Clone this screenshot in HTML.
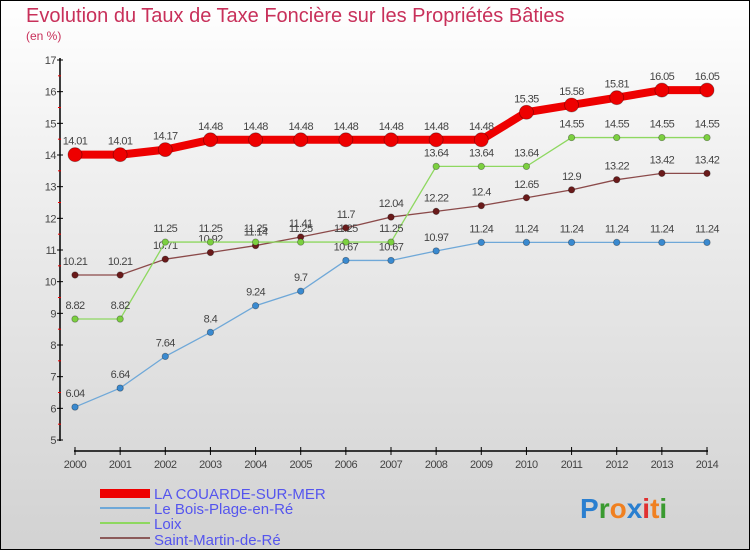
<!DOCTYPE html>
<html><head><meta charset="utf-8"><style>
html,body{margin:0;padding:0}
body{width:750px;height:550px;overflow:hidden;font-family:"Liberation Sans",sans-serif}
#wrap{position:absolute;left:0;top:0;width:748px;height:548px;border:1px solid #000;background:linear-gradient(#fff,#f0f0f0 30%,#d2d2d2)}
</style></head><body>
<div id="wrap">
<svg id="chart" width="750" height="550" style="position:absolute;left:-1px;top:-1px">
<text x="26" y="22" font-size="20" fill="#c8305a">Evolution du Taux de Taxe Foncière sur les Propriétés Bâties</text>
<text x="26" y="40" font-size="12" fill="#c8305a">(en %)</text>
<g id="axes"></g><g id="series"></g>
<g>
<rect x="100" y="489" width="50" height="9" fill="#e00"/>
<text x="154" y="499" font-size="15" fill="#5555ee">LA COUARDE-SUR-MER</text>
<rect x="100" y="507" width="50" height="2" fill="#6fa8d8"/>
<text x="154" y="514" font-size="15" fill="#5555ee">Le Bois-Plage-en-Ré</text>
<rect x="100" y="522" width="50" height="2" fill="#8ed860"/>
<text x="154" y="529" font-size="15" fill="#5555ee">Loix</text>
<rect x="100" y="537" width="50" height="2" fill="#8b5a5a"/>
<text x="154" y="545" font-size="15" fill="#5555ee">Saint-Martin-de-Ré</text>
</g>
<text x="580" y="518" font-size="28" font-weight="bold"><tspan fill="#2a7fd0">P</tspan><tspan fill="#3a9a30">r</tspan><tspan fill="#f08020">o</tspan><tspan fill="#2a7fd0">x</tspan><tspan fill="#e03030">i</tspan><tspan fill="#f08020">t</tspan><tspan fill="#3a9a30">i</tspan></text>
</svg>
</div>
<script>
const years=[2000,2001,2002,2003,2004,2005,2006,2007,2008,2009,2010,2011,2012,2013,2014];
const yTicks=[5,6,7,8,9,10,11,12,13,14,15,16,17];
const couarde=[14.01,14.01,14.17,14.48,14.48,14.48,14.48,14.48,14.48,14.48,15.35,15.58,15.81,16.05,16.05];
const boisPlage=[6.04,6.64,7.64,8.4,9.24,9.7,10.67,10.67,10.97,11.24,11.24,11.24,11.24,11.24,11.24];
const loix=[8.82,8.82,11.25,11.25,11.25,11.25,11.25,11.25,13.64,13.64,13.64,14.55,14.55,14.55,14.55];
const saintMartin=[10.21,10.21,10.71,10.92,11.14,11.41,11.7,12.04,12.22,12.4,12.65,12.9,13.22,13.42,13.42];
const NS="http://www.w3.org/2000/svg";
const X=i=>75+i*(707-75)/(years.length-1);
const Y=v=>440-(v-5)*(380/12);
function mk(t,a,p){const e=document.createElementNS(NS,t);for(const k in a)e.setAttribute(k,a[k]);p.appendChild(e);return e;}
const ax=document.getElementById('axes');
let l=mk('line',{x1:60,y1:58,x2:60,y2:441,stroke:'#000','stroke-width':1.5},ax);


l=mk('line',{x1:74,y1:451,x2:708,y2:451,stroke:'#000','stroke-width':1.5},ax);


yTicks.forEach(v=>{
 mk('line',{x1:57,y1:Y(v),x2:63,y2:Y(v),stroke:'#000'},ax);
 if(v<17)mk('line',{x1:58,y1:Y(v+0.5),x2:61,y2:Y(v+0.5),stroke:'#e00'},ax);
 const t=mk('text',{x:56,y:Y(v)+4,'font-size':11,fill:'#444','text-anchor':'end','letter-spacing':'-0.5'},ax);
 t.textContent=v;
 
 
});
years.forEach((y,i)=>{
 mk('line',{x1:X(i),y1:447,x2:X(i),y2:455,stroke:'#000'},ax);
 const t=mk('text',{x:X(i),y:468,'font-size':11,fill:'#444','text-anchor':'middle','letter-spacing':'-0.5'},ax);
 t.textContent=y;
 
 
});
const sg=document.getElementById('series');
function draw(vals,color,w,r,name,dot){
 const g=mk('g',{},sg);
 
 
 const p=mk('polyline',{points:vals.map((v,i)=>X(i)+','+Y(v)).join(' '),fill:'none',stroke:color,'stroke-width':w},g);
 
 
 vals.forEach((v,i)=>{
  const c=mk('circle',{cx:X(i),cy:Y(v),r:r,fill:dot,stroke:'rgba(0,0,0,0.35)','stroke-width':0.8},g);
  
  
  const t=mk('text',{x:X(i),y:Y(v)-10,'font-size':11,fill:'#444','text-anchor':'middle','letter-spacing':'-0.6'},g);
  t.textContent=v;
  
  
 });
}
draw(saintMartin,'#8b4a4a',1.3,3.2,'saint-martin','#6a1a1a');
draw(loix,'#8ed860',1.3,3.2,'loix','#7cd040');
draw(boisPlage,'#6fa8d8',1.3,3.2,'bois-plage','#3a8ad0');
draw(couarde,'#e00',8,7,'couarde','#e00');
</script>
</body></html>
